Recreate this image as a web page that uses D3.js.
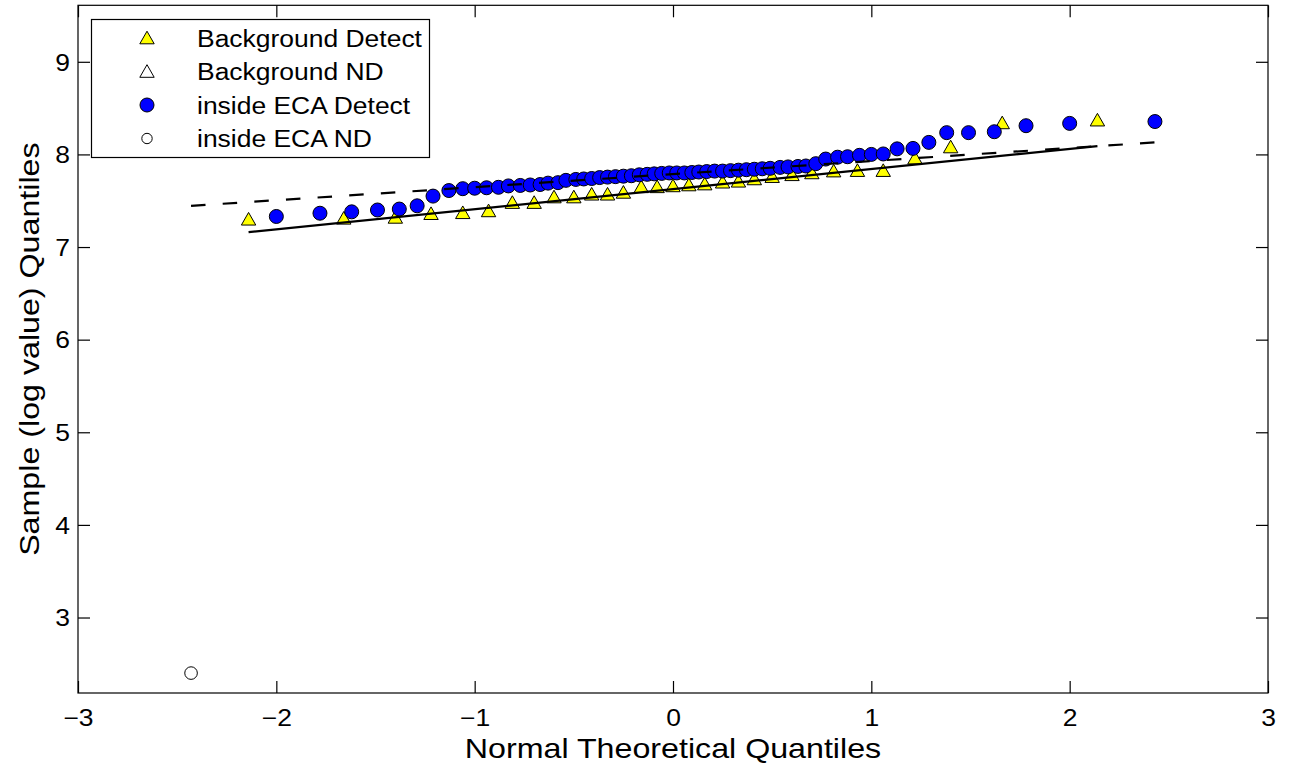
<!DOCTYPE html>
<html>
<head>
<meta charset="utf-8">
<script src="https://cdn.jsdelivr.net/npm/d3@7"></script>
<style>
  html, body { margin: 0; padding: 0; background: #fff; }
  svg { display: block; }
  text { font-family: "Liberation Sans", Arial, Helvetica, sans-serif; fill: #000; }
</style>
</head>
<body>
<svg id="chart" width="1289" height="771"></svg>
<script>
// ---------------- data ----------------
const xTicks = [-3, -2, -1, 0, 1, 2, 3];
const yTicks = [3, 4, 5, 6, 7, 8, 9];

const seriesNames = ["Background Detect", "Background ND", "inside ECA Detect", "inside ECA ND"];

// Background Detect (yellow triangles)
const bgDetectQ = [-2.14, -1.66, -1.40, -1.22, -1.06, -0.93, -0.81, -0.70, -0.60, -0.50, -0.41, -0.33, -0.25, -0.16, -0.08, 0,
                   0.08, 0.16, 0.25, 0.33, 0.41, 0.50, 0.60, 0.70, 0.81, 0.93, 1.06, 1.22, 1.40, 1.66, 2.14];
const bgDetectV = [7.30, 7.31, 7.32, 7.36, 7.37, 7.39, 7.48, 7.48, 7.54, 7.54, 7.57, 7.57, 7.59, 7.65, 7.65, 7.66,
                   7.67, 7.68, 7.70, 7.71, 7.735, 7.76, 7.78, 7.80, 7.82, 7.825, 7.825, 7.96, 8.08, 8.34, 8.37];

// Background ND (white triangles) - no points
const bgNDQ = [];
const bgNDV = [];

// inside ECA Detect (blue circles)
const ecaDetectQ = [-2.00, -1.78, -1.62, -1.49, -1.38, -1.29, -1.21, -1.13, -1.06, -1.00, -0.94, -0.88, -0.83, -0.77, -0.72, -0.67,
                    -0.63, -0.58, -0.54, -0.49, -0.45, -0.41, -0.37, -0.33, -0.29, -0.25, -0.21, -0.17, -0.13, -0.095, -0.057, -0.019,
                    0.019, 0.057, 0.095, 0.13, 0.17, 0.21, 0.25, 0.29, 0.33, 0.37, 0.41, 0.45, 0.49, 0.54, 0.58, 0.63, 0.67,
                    0.72, 0.77, 0.83, 0.88, 0.94, 1.00, 1.06, 1.13, 1.21, 1.29, 1.38, 1.49, 1.62, 1.78, 2.00, 2.43];
const ecaDetectV = [7.33, 7.365, 7.38, 7.40, 7.41, 7.445, 7.55, 7.61, 7.63, 7.635, 7.64, 7.645, 7.66, 7.665, 7.67, 7.675,
                    7.69, 7.695, 7.72, 7.73, 7.735, 7.74, 7.75, 7.755, 7.76, 7.765, 7.77, 7.78, 7.785, 7.79, 7.795, 7.80,
                    7.80, 7.80, 7.805, 7.81, 7.815, 7.82, 7.82, 7.825, 7.83, 7.835, 7.84, 7.845, 7.85, 7.86, 7.865, 7.87, 7.875,
                    7.90, 7.95, 7.97, 7.975, 7.99, 8.00, 8.005, 8.06, 8.065, 8.13, 8.235, 8.235, 8.245, 8.31, 8.335, 8.355];

// inside ECA ND (open circle)
const ecaNDQ = [-2.43];
const ecaNDV = [2.40];

// reference lines (solid: background fit, dashed: inside ECA fit)
const bgLineQ = [-2.14, 2.14];
const bgLineV = [7.16, 8.09];
const ecaLineQ = [-2.43, 2.43];
const ecaLineV = [7.445, 8.13];

// ---------------- drawing ----------------
const svg = d3.select("#chart");
const STRETCH = 1.15;

const x = d3.scaleLinear().domain([-3, 3]).range([78, 1268]);
const y = d3.scaleLinear().domain([2.185, 9.61]).range([693, 5.3]);

const [x0, x1] = x.range();
const [yB, yT] = y.range();

svg.append("rect").attr("x", 0).attr("y", 0).attr("width", 1289).attr("height", 771).attr("fill", "#fff");

function stretch(sel) {
  sel.each(function () {
    const len = this.getComputedTextLength();
    if (len > 0) {
      d3.select(this).attr("textLength", len * STRETCH).attr("lengthAdjust", "spacingAndGlyphs");
    }
  });
}

const triPath = "M0,-6.8L7.2,5.8L-7.2,5.8Z";

// points: background detect triangles
const bgData = bgDetectQ.map((q, i) => ({ q, v: bgDetectV[i] }));
svg.append("g").selectAll("path").data(bgData).join("path")
  .attr("d", triPath)
  .attr("transform", d => `translate(${x(d.q)},${y(d.v)})`)
  .attr("fill", "#ffff00").attr("stroke", "#000").attr("stroke-width", 1);

const bgNDData = bgNDQ.map((q, i) => ({ q, v: bgNDV[i] }));
svg.append("g").selectAll("path").data(bgNDData).join("path")
  .attr("d", triPath)
  .attr("transform", d => `translate(${x(d.q)},${y(d.v)})`)
  .attr("fill", "#fff").attr("stroke", "#000").attr("stroke-width", 1);

const ecaData = ecaDetectQ.map((q, i) => ({ q, v: ecaDetectV[i] }));
svg.append("g").selectAll("circle").data(ecaData).join("circle")
  .attr("cx", d => x(d.q)).attr("cy", d => y(d.v)).attr("r", 7)
  .attr("fill", "#0000ff").attr("stroke", "#000").attr("stroke-width", 1);

const ecaNDData = ecaNDQ.map((q, i) => ({ q, v: ecaNDV[i] }));
svg.append("g").selectAll("circle").data(ecaNDData).join("circle")
  .attr("cx", d => x(d.q)).attr("cy", d => y(d.v)).attr("r", 6.3)
  .attr("fill", "#fff").attr("stroke", "#000").attr("stroke-width", 1);

// lines
const line = d3.line().x(d => x(d.q)).y(d => y(d.v));
svg.append("path")
  .datum(bgLineQ.map((q, i) => ({ q, v: bgLineV[i] })))
  .attr("d", line).attr("fill", "none").attr("stroke", "#000").attr("stroke-width", 2.2);
svg.append("path")
  .datum(ecaLineQ.map((q, i) => ({ q, v: ecaLineV[i] })))
  .attr("d", line).attr("fill", "none").attr("stroke", "#000").attr("stroke-width", 2.2)
  .attr("stroke-dasharray", "14.5,17.2");

// axes frame
svg.append("rect")
  .attr("x", x0).attr("y", yT).attr("width", x1 - x0).attr("height", yB - yT)
  .attr("fill", "none").attr("stroke", "#000").attr("stroke-width", 1.2);

const fmt = d3.format("");
const gx = svg.append("g").attr("transform", `translate(0,${yB})`)
  .call(d3.axisBottom(x).tickValues(xTicks).tickFormat(fmt).tickSizeInner(-12).tickSizeOuter(0).tickPadding(17));
const gxTop = svg.append("g").attr("transform", `translate(0,${yT})`)
  .call(d3.axisTop(x).tickValues(xTicks).tickFormat("").tickSizeInner(-12).tickSizeOuter(0));
const gy = svg.append("g").attr("transform", `translate(${x0},0)`)
  .call(d3.axisLeft(y).tickValues(yTicks).tickFormat(fmt).tickSizeInner(-12).tickSizeOuter(0).tickPadding(8));
const gyR = svg.append("g").attr("transform", `translate(${x1},0)`)
  .call(d3.axisRight(y).tickValues(yTicks).tickFormat("").tickSizeInner(-12).tickSizeOuter(0));

[gx, gxTop, gy, gyR].forEach(g => {
  g.select(".domain").remove();
  g.selectAll(".tick line").attr("stroke", "#000").attr("stroke-width", 1.2);
  g.selectAll(".tick text")
    .attr("font-family", "Liberation Sans, Arial, sans-serif")
    .attr("font-size", 23).attr("fill", "#000");
});
gy.selectAll(".tick text").attr("dy", "0.36em");
stretch(gx.selectAll(".tick text"));
stretch(gy.selectAll(".tick text"));

// axis labels
const xl = svg.append("text")
  .attr("x", (x0 + x1) / 2).attr("y", 758)
  .attr("text-anchor", "middle").attr("font-size", 28)
  .text("Normal Theoretical Quantiles");
stretch(xl);

const yl = svg.append("text")
  .attr("transform", `translate(39,${(yB + yT) / 2}) rotate(-90)`)
  .attr("text-anchor", "middle").attr("font-size", 28)
  .text("Sample (log value) Quantiles");
stretch(yl);

// legend
const lg = svg.append("g");
lg.append("rect").attr("x", 91.5).attr("y", 19.5).attr("width", 338).attr("height", 138)
  .attr("fill", "#fff").attr("stroke", "#000").attr("stroke-width", 1.2);
const rowsY = [38, 71.5, 105, 138.5];
const styles = [
  { shape: "tri", fill: "#ffff00" },
  { shape: "tri", fill: "#fff" },
  { shape: "circle", fill: "#0000ff", r: 7 },
  { shape: "circle", fill: "#fff", r: 5.2 }
];
seriesNames.forEach((name, i) => {
  const st = styles[i];
  if (st.shape === "tri") {
    lg.append("path").attr("d", triPath).attr("transform", `translate(147,${rowsY[i]})`)
      .attr("fill", st.fill).attr("stroke", "#000").attr("stroke-width", 1);
  } else {
    lg.append("circle").attr("cx", 147).attr("cy", rowsY[i]).attr("r", st.r)
      .attr("fill", st.fill).attr("stroke", "#000").attr("stroke-width", 1);
  }
  const t = lg.append("text").attr("x", 197).attr("y", rowsY[i] + 8.5)
    .attr("font-size", 23).text(name);
  stretch(t);
});
</script>
</body>
</html>
